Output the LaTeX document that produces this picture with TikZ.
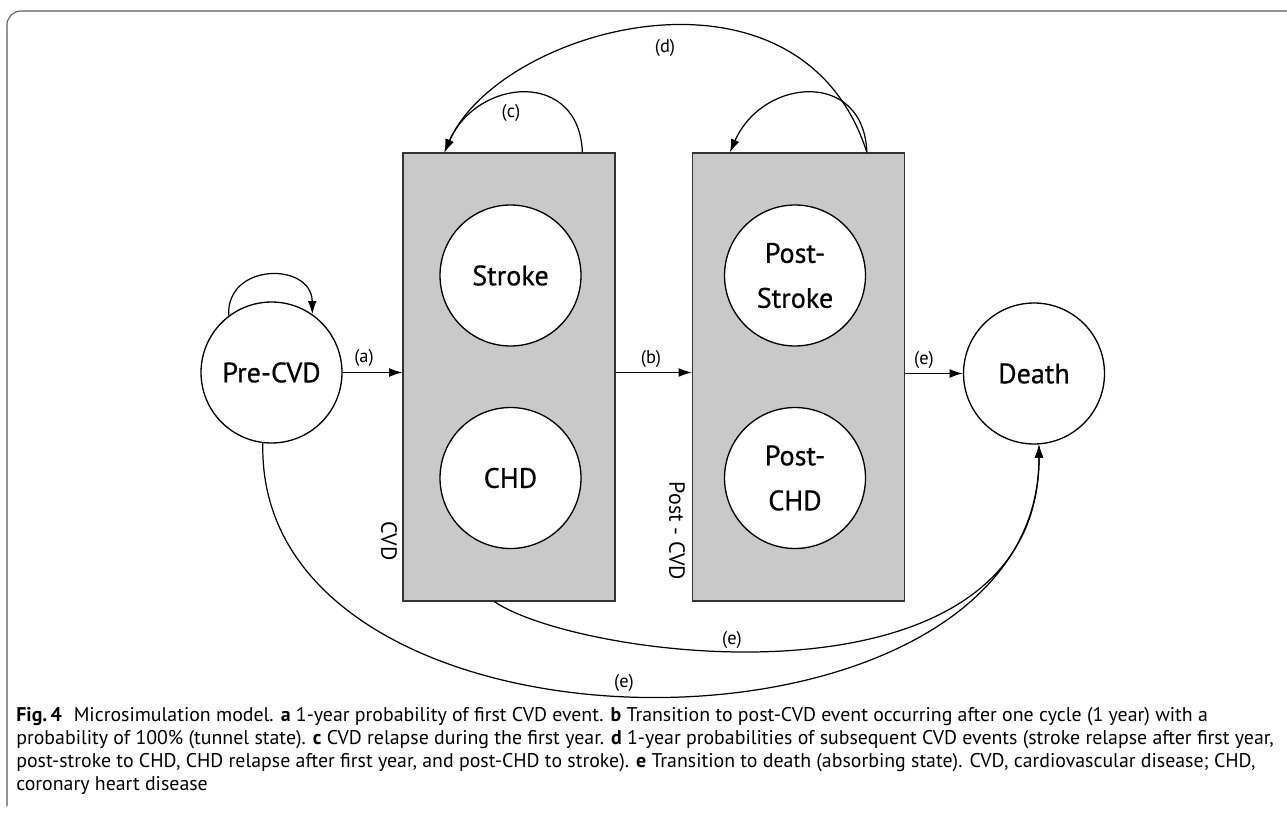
\documentclass[tikz,border=0pt]{standalone}
\usepackage{fontspec}
\setmainfont{PT Sans}
\newfontfamily\statefont[FakeBold=0.6]{PT Sans}
\usetikzlibrary{arrows.meta,calc}
\begin{document}
\begin{tikzpicture}[x=0.02cm,y=-0.02cm,
  statenode/.style={circle,draw=black,line width=0.75pt,fill=white,minimum size=2.82cm,inner sep=0pt,font=\statefont\fontsize{16}{25.6}\selectfont,align=center},
  groupbox/.style={rectangle,draw=black!80,line width=0.75pt,fill=black!21,minimum width=4.24cm,minimum height=8.96cm,inner sep=0pt},
  conn/.style={line width=0.7pt,-{Latex[length=7.5pt,width=5pt]}},
  edgelab/.style={font=\fontsize{10.5}{12}\selectfont,inner sep=0pt},
  sidelab/.style={font=\fontsize{12.5}{14}\selectfont,rotate=-90,inner sep=0pt},
  captext/.style={font=\fontsize{11.3}{13}\selectfont,anchor=base west,inner sep=0pt},
  frameline/.style={draw=black!65,line width=0.6pt,rounded corners=0.28cm}]
\useasboundingbox (0,0) rectangle (1287,814);
% frame
\coordinate (fb) at (7,806);
\coordinate (fc) at (7,11);
\coordinate (fr) at (1287,11);
\draw[frameline] (fb) -- (fc) -- (fr);
% nodes
\node[groupbox] (cvd) at (509,377) {};
\node[groupbox] (post) at (798.5,377) {};
\node[statenode] (pre) at (271.5,372.5) {Pre-CVD};
\node[statenode] (stroke) at (510.5,275.5) {Stroke};
\node[statenode] (chd) at (510.5,478) {CHD};
\node[statenode] (pstroke) at (795,275.5) {Post-\\Stroke};
\node[statenode] (pchd) at (795,478) {Post-\\CHD};
\node[statenode] (death) at (1034,373.5) {Death};
\node[sidelab] (cvdlab) at (389,541) {CVD};
\node[sidelab] (postlab) at (677,531) {Post - CVD};
% straight transitions
\draw[conn] (pre.east) -- (pre.east -| cvd.west);
\draw[conn] (cvd.east |- pre.east) -- (post.west |- pre.east);
\draw[conn] (post.east |- death.west) -- (death.west);
\node[edgelab] (la) at (364,358) {(a)};
\node[edgelab] (lb) at (651,359) {(b)};
\node[edgelab] (le1) at (924,360) {(e)};
% loops
\coordinate (cin) at ($(cvd.north west)+(42,0)$);
\coordinate (cout) at ($(cvd.north west)+(180,0)$);
\coordinate (pin) at ($(post.north west)+(38,0)$);
\coordinate (pout) at ($(post.north west)+(175,0)$);
\draw[conn] (pre.127) .. controls (226,262) and (312,262) .. (pre.55);
\draw[conn] (cout) .. controls ($(cout)+(-3,-83)$) and ($(cin)+(33,-75)$) .. (cin);
\draw[conn] (pout) .. controls ($(pout)+(-3,-83)$) and ($(pin)+(33,-75)$) .. (pin);
\draw[conn] (pout) .. controls (800,-56) and ($(cin)+(55,-125)$) .. (cin);
\node[edgelab] (lc) at (511,113) {(c)};
\node[edgelab] (ld) at (665,48) {(d)};
% to death
\coordinate (cbot) at ($(cvd.south west)+(92,0)$);
\draw[conn] (cbot) .. controls (580,660) and (1040,720) .. (death.-86);
\draw[conn] (pre.-97) .. controls (255,780) and (1040,780) .. (death.-86);
\node[edgelab] (le2) at (732,640) {(e)};
\node[edgelab] (le3) at (624,683) {(e)};
% caption
\node[captext] (c1) at (16,721) {\textbf{Fig.\,4}\hspace{0.6em}Microsimulation model. \textbf{a} 1-year probability of first CVD event. \textbf{b} Transition to post-CVD event occurring after one cycle (1 year) with a};
\node[captext] (c2) at (16,744) {probability of 100\% (tunnel state). \textbf{c} CVD relapse during the first year. \textbf{d} 1-year probabilities of subsequent CVD events (stroke relapse after first year,};
\node[captext] (c3) at (16,767) {post-stroke to CHD, CHD relapse after first year, and post-CHD to stroke). \textbf{e} Transition to death (absorbing state). CVD, cardiovascular disease; CHD,};
\node[captext] (c4) at (16,790) {coronary heart disease};
\end{tikzpicture}
\end{document}
